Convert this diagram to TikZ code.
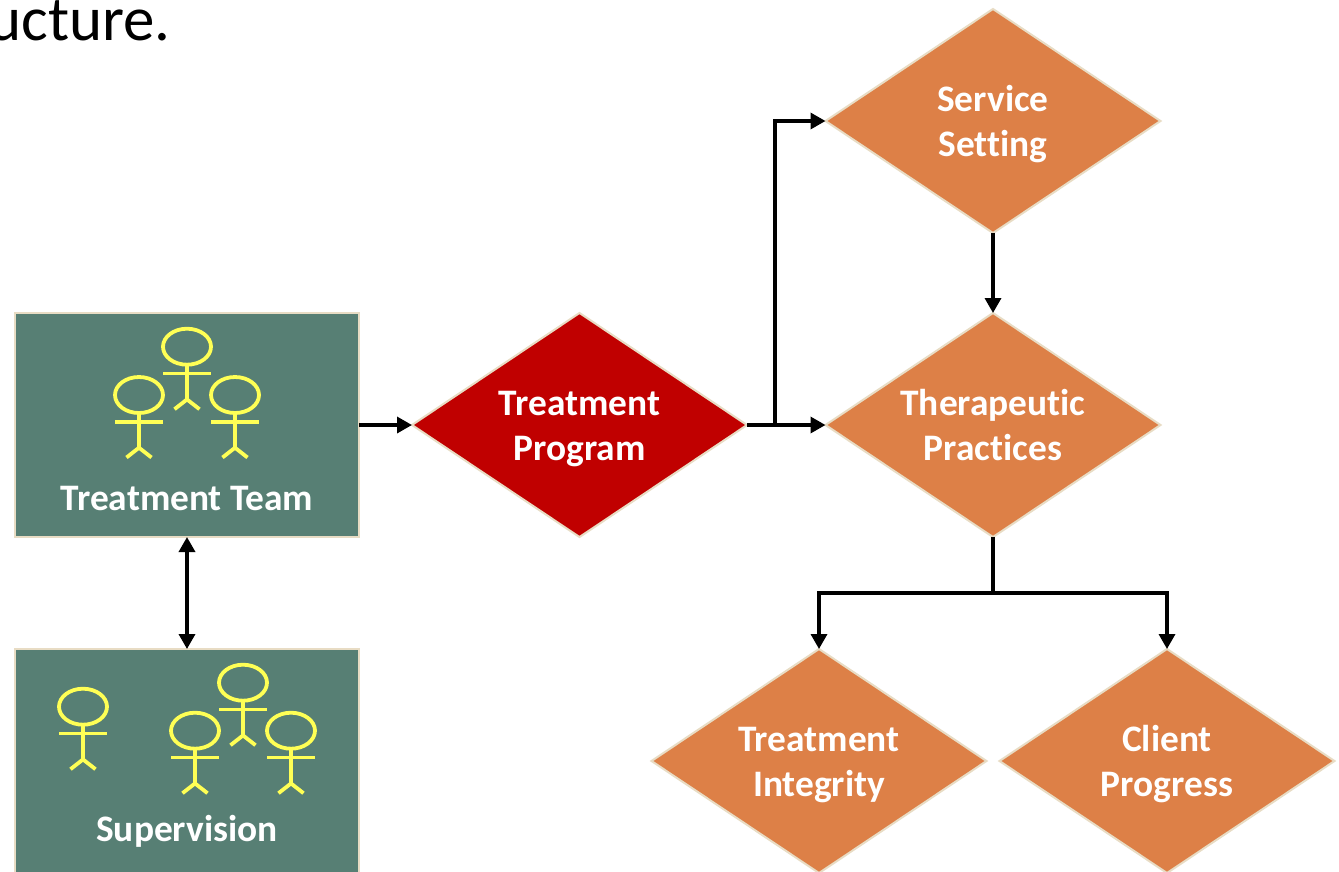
\documentclass[tikz,border=0pt]{standalone}
\usepackage{fontspec}
\setmainfont[Ligatures={NoCommon}]{Carlito}
\usetikzlibrary{arrows.meta,shapes.geometric}
\definecolor{boxgreen}{HTML}{577F74}
\definecolor{edgetan}{HTML}{E8DCC4}
\definecolor{dorange}{HTML}{DD8047}
\definecolor{dred}{HTML}{C00000}
\definecolor{figyellow}{HTML}{FFFF55}
\newcommand{\lnstrut}{\rule{0pt}{33pt}\rule[-8pt]{0pt}{8pt}}
\tikzset{
  panel/.style={draw=edgetan,fill=boxgreen,line width=2pt,minimum width=344pt,inner sep=0pt,outer sep=0pt},
  dia/.style={diamond,aspect=1.5,draw=edgetan,line width=2pt,minimum width=335pt,minimum height=224pt,inner sep=0pt,outer sep=0pt,text=white,font=\fontsize{37.4}{45}\selectfont\bfseries,align=center},
  orangedia/.style={dia,fill=dorange},
  reddia/.style={dia,fill=dred},
  paneltext/.style={text=white,font=\fontsize{37.4}{45}\selectfont\bfseries,inner sep=0pt,anchor=base},
  conn/.style={draw=black,line width=3.4pt,-{Triangle[length=15pt,width=16pt]}},
  stickline/.style={draw=figyellow,line width=3.8pt}
}
\newcommand{\stickfig}[2]{%
  \draw[stickline] (#1,#2) ellipse [x radius=24,y radius=18];
  \draw[stickline] (#1,#2+18) -- (#1,#2+52.7);
  \draw[stickline] (#1-24,#2+26.7) -- (#1+24,#2+26.7);
  \draw[stickline] (#1-12.5,#2+62.5) -- (#1,#2+52.7) -- (#1+12.5,#2+62.5);
}
\begin{document}
\begin{tikzpicture}[x=1pt,y=-1pt]
\useasboundingbox (0,0) rectangle (1339,871);
\clip (0,0) rectangle (1339,871);
\node[anchor=base east,inner sep=0pt,font=\fontsize{63}{65}\selectfont] (title) at (171,40.5) {ucture.};
\node[panel,minimum height=224pt] (team) at (187,425) {};
\node[panel,minimum height=240pt,anchor=north] (sup) at (187,649) {};
\node[paneltext] (teamlabel) at (187,510.5) {Treatment Team};
\node[paneltext] (suplabel) at (187,841) {Supervision};
\stickfig{187}{346.7}
\stickfig{139}{395}
\stickfig{235}{395}
\stickfig{83}{706.7}
\stickfig{243}{682.7}
\stickfig{195}{730.7}
\stickfig{291}{730.7}
\node[reddia] (prog) at (579.5,425) {Treatment\lnstrut\\Program\lnstrut};
\node[orangedia] (serv) at (993,121) {Service\lnstrut\\Setting\lnstrut};
\node[orangedia] (ther) at (993,425) {Therapeutic\lnstrut\\Practices\lnstrut};
\node[orangedia] (integ) at (819,761) {Treatment\lnstrut\\Integrity\lnstrut};
\node[orangedia] (client) at (1167,761) {Client\lnstrut\\Progress\lnstrut};
\draw[conn] (team.east) -- (prog.west);
\draw[conn,{Triangle[length=15pt,width=16pt]}-{Triangle[length=15pt,width=16pt]}] (team.south) -- (sup.north);
\draw[conn] (prog.east) -- (ther.west);
\coordinate (branch) at (775,425);
\draw[conn] (branch) |- (serv.west);
\draw[conn] (serv.south) -- (ther.north);
\coordinate (split) at (993,593);
\draw[line width=3.4pt] (ther.south) -- (split);
\draw[conn] (split) -| (integ.north);
\draw[conn] (split) -| (client.north);
\end{tikzpicture}
\end{document}
